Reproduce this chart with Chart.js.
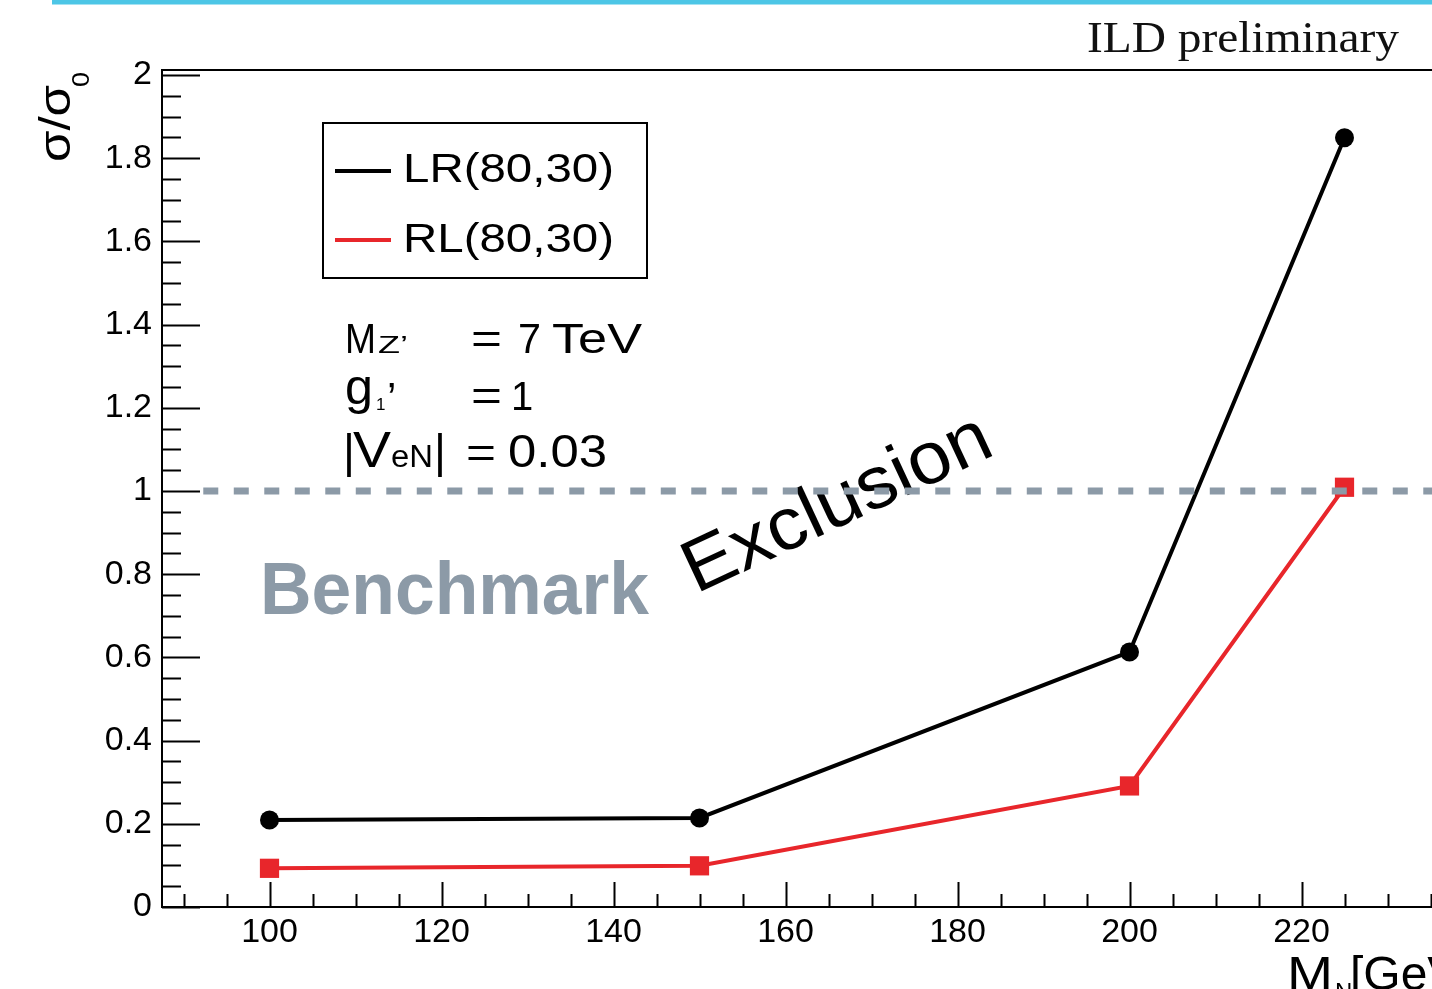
<!DOCTYPE html>
<html>
<head>
<meta charset="utf-8">
<script src="https://cdn.jsdelivr.net/npm/chart.js@4.4.1/dist/chart.umd.min.js"></script>
<style>
html,body{margin:0;padding:0;background:#fff;overflow:hidden;width:1432px;height:989px;}
canvas{display:block;}
</style>
</head>
<body>
<canvas id="c" width="1470" height="989"></canvas>
<script>
// ---- data ----
const massGeV = [100, 150, 200, 225];
const lrRatio = [0.209, 0.214, 0.613, 1.849];
const rlRatio = [0.093, 0.099, 0.291, 1.009];
const seriesLabels = ['LR(80,30)', 'RL(80,30)'];
const benchmarkLevel = 1;
const benchmarkRange = [92.3, 237.5];
const xTickValues = [100, 120, 140, 160, 180, 200, 220];
const xTickLabels = ['100', '120', '140', '160', '180', '200', '220'];
const yTickValues = [0, 0.2, 0.4, 0.6, 0.8, 1, 1.2, 1.4, 1.6, 1.8, 2];
const yTickLabels = ['0', '0.2', '0.4', '0.6', '0.8', '1', '1.2', '1.4', '1.6', '1.8', '2'];
const xMinorStep = 5;
const yMinorStep = 0.05;

const SANS = '"Liberation Sans", Arial, Helvetica, sans-serif';
const SERIF = '"Liberation Serif", "Times New Roman", serif';
const GRAY = '#8c9aa7';
const RED = '#e8262b';

function txt(ctx, s, x, y, size, o) {
  o = o || {};
  ctx.save();
  ctx.font = (o.weight || 'normal') + ' ' + size + 'px ' + (o.family || SANS);
  ctx.fillStyle = o.color || '#000';
  ctx.textAlign = 'left';
  ctx.textBaseline = 'alphabetic';
  ctx.translate(x, y);
  if (o.rot) ctx.rotate(o.rot);
  if (o.w) { const m = ctx.measureText(s).width; ctx.scale(o.w / m, 1); }
  ctx.fillText(s, 0, 0);
  ctx.restore();
}

const decor = {
  id: 'decor',
  beforeDatasetsDraw(chart) {
    const ctx = chart.ctx;
    // Benchmark / Exclusion labels (under the dashed line)
    txt(ctx, 'Benchmark', 260, 614, 74, {weight: 'bold', color: GRAY, w: 389});
    txt(ctx, 'Exclusion', 696, 594, 74, {rot: -25 * Math.PI / 180, w: 332});
  },
  afterDraw(chart) {
    const ctx = chart.ctx;
    const a = chart.chartArea;
    const xs = chart.scales.x, ys = chart.scales.y;
    ctx.save();
    // frame
    ctx.strokeStyle = '#000';
    ctx.lineWidth = 2;
    ctx.beginPath();
    ctx.moveTo(a.left, a.top); ctx.lineTo(a.right, a.top);
    ctx.lineTo(a.right, a.bottom); ctx.lineTo(a.left, a.bottom);
    ctx.closePath();
    ctx.stroke();
    // y ticks (inward)
    ctx.beginPath();
    for (let v = 0; v <= ys.max + 1e-9; v += yMinorStep) {
      const major = Math.abs(v / 0.2 - Math.round(v / 0.2)) < 1e-6;
      const p = Math.round(ys.getPixelForValue(v)) + 0.5;
      ctx.moveTo(a.left, p);
      ctx.lineTo(a.left + (major ? 38 : 19), p);
    }
    // x ticks (inward)
    for (let v = Math.ceil(xs.min / xMinorStep) * xMinorStep; v <= xs.max; v += xMinorStep) {
      const major = v % 20 === 0;
      const p = Math.round(xs.getPixelForValue(v)) + 0.5;
      ctx.moveTo(p, a.bottom);
      ctx.lineTo(p, a.bottom - (major ? 25 : 13));
    }
    ctx.stroke();

    // legend
    ctx.lineWidth = 2;
    ctx.strokeRect(323, 123, 324, 155);
    const ds = chart.data.datasets;
    [1, 2].forEach((di, k) => {
      const y = 171 + k * 69;
      ctx.strokeStyle = ds[di].borderColor;
      ctx.lineWidth = 4;
      ctx.beginPath(); ctx.moveTo(335, y); ctx.lineTo(391, y); ctx.stroke();
      txt(ctx, ds[di].label, 403, 182 + k * 70, 41, {w: 211});
    });

    // parameter block
    txt(ctx, 'M', 345, 353, 43, {w: 31});
    txt(ctx, 'Z\u2019', 378, 353, 23, {w: 30});
    txt(ctx, '=', 471, 353, 42, {w: 31});
    txt(ctx, '7', 518, 353, 43, {w: 23});
    txt(ctx, 'TeV', 552, 353, 43, {w: 90});

    txt(ctx, 'g', 345, 404, 50, {w: 28});
    txt(ctx, '1', 376, 410, 17);
    txt(ctx, '\u2019', 387, 412, 42);
    txt(ctx, '=', 471, 410, 42, {w: 31});
    txt(ctx, '1', 511, 410, 40);

    txt(ctx, '|', 343, 467, 46);
    txt(ctx, 'V', 353, 467, 50, {w: 38});
    txt(ctx, 'eN', 391, 467, 31, {w: 42});
    txt(ctx, '|', 434, 467, 46);
    txt(ctx, '=', 466, 467, 42, {w: 30});
    txt(ctx, '0.03', 508, 467, 46, {w: 99});

    // axis titles
    txt(ctx, '\u03c3/\u03c3', 70, 162, 44, {rot: -Math.PI / 2, w: 77});
    txt(ctx, '0', 89, 87, 24, {rot: -Math.PI / 2, w: 15});
    txt(ctx, 'M', 1287, 990, 48, {w: 46});
    txt(ctx, 'N', 1335, 1000, 24);
    txt(ctx, '[GeV]', 1350, 990, 48);

    // header
    txt(ctx, 'ILD preliminary', 1087, 52, 45, {family: SERIF, color: '#111', w: 312});
    ctx.fillStyle = '#4dc6e6';
    ctx.fillRect(52, 0, chart.width, 4.5);
    ctx.restore();
  }
};

const toPts = (xs, ys) => xs.map((x, i) => ({x: x, y: ys[i]}));

new Chart(document.getElementById('c'), {
  type: 'scatter',
  data: {
    datasets: [
      {
        label: 'Benchmark',
        data: benchmarkRange.map(x => ({x: x, y: benchmarkLevel})),
        showLine: true, borderColor: GRAY, borderWidth: 7, borderDash: [15, 15.5],
        borderCapStyle: 'butt', pointRadius: 0, order: 0
      },
      {
        label: seriesLabels[0],
        data: toPts(massGeV, lrRatio),
        showLine: true, borderColor: '#000', backgroundColor: '#000', borderWidth: 4,
        pointStyle: 'circle', pointRadius: 9.5, pointBorderWidth: 0, order: 1
      },
      {
        label: seriesLabels[1],
        data: toPts(massGeV, rlRatio),
        showLine: true, borderColor: RED, backgroundColor: RED, borderWidth: 4,
        pointStyle: 'rect', pointRadius: 13.6, pointBorderWidth: 0, order: 2
      }
    ]
  },
  options: {
    responsive: false,
    animation: false,
    events: [],
    layout: {padding: {left: 0, top: 70, right: 18, bottom: 0}},
    plugins: {legend: {display: false}, tooltip: {enabled: false}},
    scales: {
      x: {
        type: 'linear', min: 87.5, max: 237.5,
        grid: {display: false, drawTicks: false},
        border: {display: false},
        ticks: {
          color: '#000', font: {family: SANS, size: 34}, padding: 5,
          maxRotation: 0, autoSkip: false,
          callback: (v, i) => xTickLabels[i]
        },
        afterBuildTicks: s => { s.ticks = xTickValues.map(v => ({value: v})); },
        afterFit: s => { s.height = 82; }
      },
      y: {
        type: 'linear', min: 0, max: 2.012,
        grid: {display: false, drawTicks: false},
        border: {display: false},
        ticks: {
          color: '#000', font: {family: SANS, size: 34}, padding: 10,
          autoSkip: false,
          callback: (v, i) => yTickLabels[i]
        },
        afterBuildTicks: s => { s.ticks = yTickValues.map(v => ({value: v})); },
        afterFit: s => { s.width = 162; }
      }
    }
  },
  plugins: [decor]
});
</script>
</body>
</html>
